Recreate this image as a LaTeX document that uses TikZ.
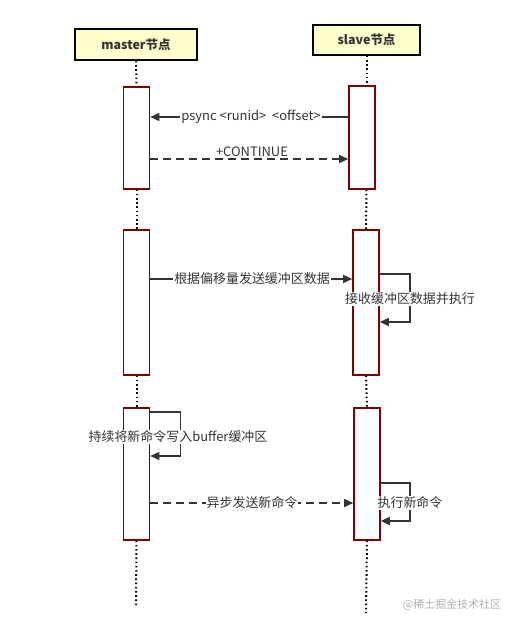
\documentclass[tikz,border=0pt]{standalone}
\usepackage{fontspec}
\setmainfont{Noto Sans CJK SC}
\usetikzlibrary{arrows.meta,positioning}
\definecolor{hd}{RGB}{255,255,204}
\definecolor{br}{RGB}{128,0,0}
\definecolor{ln}{RGB}{51,51,51}
\definecolor{wm}{RGB}{175,175,175}
\def\barw{26bp}
\newcommand{\actbox}[4]{\node[actbar,minimum height=#4,anchor=north] (#1) at (#2,#3) {};}

\begin{document}
\begin{tikzpicture}[x=1bp,y=-1bp,font=\fontsize{13}{15}\selectfont,
	head/.style={draw=black,line width=1.6bp,fill=hd,inner sep=0pt,font=\fontsize{12.5}{14}\selectfont\bfseries,text=ln},
	actbar/.style={draw=br,line width=1.6bp,fill=white,minimum width=\barw,inner sep=0pt},
	life/.style={line width=2bp,dash pattern=on 1.6bp off 2.6bp},
	msg/.style={draw=ln,line width=1.4bp,-{Triangle[length=9bp,width=8bp]}},
	dmsg/.style={msg,dash pattern=on 8bp off 5bp},
	lbl/.style={fill=white,inner sep=1pt,text=ln}]
	\useasboundingbox (0,0) rectangle (511,627);

	% lifeline heads
	\node[head,minimum width=122bp,minimum height=31bp] (master) at (136,44.5) {master节点};
	\node[head,minimum width=107bp,minimum height=30bp] (slave) at (366.5,40) {slave节点};

	% activation bars
	\actbox{m1}{136.5}{86}{102bp}
	\actbox{s1}{362}{85}{103bp}
	\actbox{m2}{136.5}{229}{145bp}
	\actbox{s2}{366}{229}{145bp}
	\actbox{m3}{136.5}{407}{132bp}
	\actbox{s3}{367}{407}{132bp}
	\coordinate (mend) at (136,606);
	\coordinate (send) at (366,613);

	% lifelines
	\draw[life] (master.south) -- (m1.north);
	\draw[life] (m1.south) -- (m2.north);
	\draw[life] (m2.south) -- (m3.north);
	\draw[life] (m3.south) -- (mend);
	\draw[life] (slave.south) -- (slave.south |- s1.north);
	\draw[life] (slave.south |- s1.south) -- (s2.north);
	\draw[life] (s2.south) -- (s3.north);
	\draw[life] (s3.south) -- (send);

	% message levels
	\coordinate (y1) at (0,117);
	\coordinate (y2) at (0,159);
	\coordinate (y3) at (0,279);
	\coordinate (y4) at (0,503);
	\coordinate (l2a) at (0,274);
	\coordinate (l2b) at (0,322);
	\coordinate (l3a) at (0,412);
	\coordinate (l3b) at (0,456);
	\coordinate (l4a) at (0,483);
	\coordinate (l4b) at (0,521);

	% messages
	\draw[msg] (s1.west |- y1) -- (m1.east |- y1);
	\node[lbl] (t1) at (251,117) {psync <runid>\ \ <offset>};
	\draw[dmsg] (m1.east |- y2) -- (s1.west |- y2);
	\node[lbl] (t2) at (252,152) {+CONTINUE};
	\draw[msg] (m2.east |- y3) -- (s2.west |- y3);
	\node[lbl] (t3) at (252,279) {根据偏移量发送缓冲区数据};
	\draw[msg] (s2.east |- l2a) -- ++(30,0) |- (s2.east |- l2b);
	\node[lbl] (t4) at (410,299) {接收缓冲区数据并执行};
	\draw[msg] (m3.east |- l3a) -- ++(30,0) |- (m3.east |- l3b);
	\node[lbl] (t5) at (178,437) {持续将新命令写入buffer缓冲区};
	\draw[dmsg] (m3.east |- y4) -- (s3.west |- y4);
	\node[lbl] (t6) at (252,503) {异步发送新命令};
	\draw[msg] (s3.east |- l4a) -- ++(29,0) |- (s3.east |- l4b);
	\node[lbl] (t7) at (410,503) {执行新命令};

	% watermark
	\node[text=wm,font=\fontsize{11}{13}\selectfont] (wmark) at (452,605) {@稀土掘金技术社区};
\end{tikzpicture}
\end{document}
